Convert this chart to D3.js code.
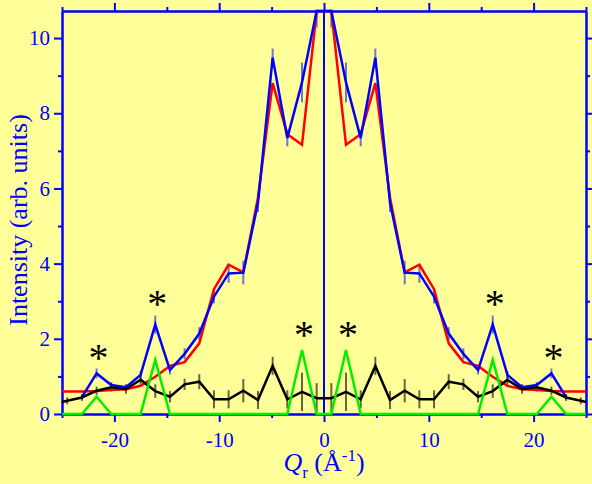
<!DOCTYPE html>
<html>
<head>
    <meta charset="utf-8">
    <title>Intensity vs Qr</title>
    <script src="https://d3js.org/d3.v7.min.js"></script>
    <style>
        body { margin: 0; background: #ffff99; }
    </style>
</head>
<body>
    <div id="chart"></div>

    <script>
        // Qr positions (1/A); the outer +-25.9 points sit just past the axis edges
        var qr = [-25.9, -24.5, -23.1, -21.7, -20.3, -18.9, -17.5, -16.1, -14.7, -13.3,
                  -11.9, -10.5, -9.1, -7.7, -6.3, -4.9, -3.5, -2.1, -0.7,
                  0.7, 2.1, 3.5, 4.9, 6.3, 7.7, 9.1, 10.5, 11.9, 13.3, 14.7,
                  16.1, 17.5, 18.9, 20.3, 21.7, 23.1, 24.5, 25.9];

        // model curve (red)
        var redI = [0.60, 0.60, 0.60, 0.61, 0.64, 0.66, 0.75, 0.99, 1.28, 1.38,
                    1.88, 3.32, 3.97, 3.77, 5.75, 8.80, 7.44, 7.16, 11.2,
                    11.2, 7.16, 7.44, 8.80, 5.75, 3.77, 3.97, 3.32, 1.88, 1.38, 1.28,
                    0.99, 0.75, 0.66, 0.64, 0.61, 0.60, 0.60, 0.60];

        // measured (blue), only -23.1 .. 23.1
        var blueQ = [-23.1, -21.7, -20.3, -18.9, -17.5, -16.1, -14.7, -13.3,
                     -11.9, -10.5, -9.1, -7.7, -6.3, -4.9, -3.5, -2.1, -0.7,
                     0.7, 2.1, 3.5, 4.9, 6.3, 7.7, 9.1, 10.5, 11.9, 13.3, 14.7,
                     16.1, 17.5, 18.9, 20.3, 21.7, 23.1];
        var blueI = [0.45, 1.08, 0.77, 0.71, 1.04, 2.38, 1.17, 1.60,
                     2.14, 3.12, 3.74, 3.76, 5.62, 9.48, 7.34, 8.82, 11.2,
                     11.2, 8.82, 7.34, 9.48, 5.62, 3.76, 3.74, 3.12, 2.14, 1.60, 1.17,
                     2.38, 1.04, 0.71, 0.77, 1.08, 0.45];
        var blueErr = [0.06, 0.13, 0.08, 0.08, 0.10, 0.24, 0.12, 0.15,
                       0.17, 0.18, 0.25, 0.31, 0.25, 0.24, 0.22, 0.53, 0.92,
                       0.92, 0.53, 0.22, 0.24, 0.25, 0.31, 0.25, 0.18, 0.17, 0.15, 0.12,
                       0.24, 0.10, 0.08, 0.08, 0.13, 0.06];

        // green curve
        var greenI = [0, 0, 0, 0.46, 0, 0, 0, 1.44, 0, 0,
                      0, 0, 0, 0, 0, 0, 0, 1.70, 0,
                      0, 1.70, 0, 0, 0, 0, 0, 0, 0, 0, 0,
                      1.44, 0, 0, 0, 0.46, 0, 0, 0];

        // black curve with error bars
        var blackI = [0.32, 0.35, 0.44, 0.62, 0.71, 0.66, 0.91, 0.61, 0.46, 0.79,
                      0.86, 0.39, 0.39, 0.62, 0.37, 1.28, 0.39, 0.59, 0.42,
                      0.42, 0.59, 0.39, 1.28, 0.37, 0.62, 0.39, 0.39, 0.86, 0.79, 0.46,
                      0.61, 0.91, 0.66, 0.71, 0.62, 0.44, 0.35, 0.32];
        var blackErr = [0, 0.09, 0.09, 0.11, 0.11, 0.12, 0.13, 0.18, 0.15, 0.15,
                        0.20, 0.24, 0.24, 0.31, 0.24, 0.24, 0.24, 0.51, 0.40,
                        0.40, 0.51, 0.24, 0.24, 0.24, 0.31, 0.24, 0.24, 0.20, 0.15, 0.15,
                        0.18, 0.13, 0.12, 0.11, 0.11, 0.09, 0.09, 0];

        // asterisk markers
        var starQ = [-21.7, -16.1, -2.1, 2.1, 16.1, 21.7];
        var starI = [1.62, 3.07, 2.24, 2.24, 3.07, 1.62];

        var xMajor = [-20, -10, 0, 10, 20];
        var xMinor = [-25, -15, -5, 5, 15, 25];
        var yMajor = [0, 2, 4, 6, 8, 10];
        var yMinor = [1, 3, 5, 7, 9];

        var width = 592, height = 484;
        var plotLeft = 62, plotRight = 586, plotTop = 11, plotBottom = 414;
        var axisColor = "#0000ff";
        var serif = "'Liberation Serif', 'Times New Roman', serif";

        var svg = d3.select("#chart")
            .append("svg")
            .attr("width", width)
            .attr("height", height);

        svg.append("rect")
            .attr("width", width)
            .attr("height", height)
            .attr("fill", "#ffff99");

        var x = d3.scaleLinear().domain([-25, 25]).range([plotLeft, plotRight]).clamp(true);
        var y = d3.scaleLinear().domain([0, 10.72]).range([plotBottom, plotTop]).clamp(true);

        function errorBars(qs, vals, errs, color, opacity) {
            svg.append("g")
                .selectAll("line")
                .data(qs.map(function(q, i) { return { q: q, v: vals[i], e: errs[i] }; })
                        .filter(function(d) { return d.e > 0; }))
                .enter()
                .append("line")
                .attr("x1", function(d) { return x(d.q); })
                .attr("x2", function(d) { return x(d.q); })
                .attr("y1", function(d) { return y(d.v - d.e); })
                .attr("y2", function(d) { return y(d.v + d.e); })
                .attr("stroke", color)
                .attr("stroke-opacity", opacity)
                .attr("stroke-width", 2);
        }

        function curve(qs, vals, color) {
            var line = d3.line()
                .x(function(d) { return x(d[0]); })
                .y(function(d) { return y(d[1]); });
            svg.append("path")
                .attr("d", line(qs.map(function(q, i) { return [q, vals[i]]; })))
                .attr("fill", "none")
                .attr("stroke", color)
                .attr("stroke-width", 2.5);
        }

        // zero line at Qr = 0
        svg.append("line")
            .attr("x1", x(0)).attr("x2", x(0))
            .attr("y1", plotTop).attr("y2", plotBottom)
            .attr("stroke", axisColor)
            .attr("stroke-width", 2);

        // axes
        function styleAxis(g) {
            g.selectAll("path, line")
                .attr("stroke", axisColor)
                .attr("stroke-width", 2);
            g.selectAll("text")
                .attr("fill", axisColor)
                .style("font-family", serif)
                .style("font-size", "21px");
        }

        var fmt = function(d) { return String(d); };

        svg.append("g")
            .attr("transform", "translate(0," + plotBottom + ")")
            .call(d3.axisBottom(x).tickValues(xMajor).tickSize(8).tickSizeOuter(0)
                .tickPadding(10).tickFormat(fmt))
            .call(styleAxis);
        svg.append("g")
            .attr("transform", "translate(0," + plotBottom + ")")
            .call(d3.axisBottom(x).tickValues(xMinor).tickSize(4).tickSizeOuter(0).tickFormat(""))
            .call(styleAxis);
        svg.append("g")
            .attr("transform", "translate(0," + plotTop + ")")
            .call(d3.axisTop(x).tickValues(xMajor).tickSize(8).tickSizeOuter(0).tickFormat(""))
            .call(styleAxis);
        svg.append("g")
            .attr("transform", "translate(0," + plotTop + ")")
            .call(d3.axisTop(x).tickValues(xMinor).tickSize(4).tickSizeOuter(0).tickFormat(""))
            .call(styleAxis);

        svg.append("g")
            .attr("transform", "translate(" + plotLeft + ",0)")
            .call(d3.axisLeft(y).tickValues(yMajor).tickSize(8).tickSizeOuter(0)
                .tickPadding(4).tickFormat(fmt))
            .call(styleAxis);
        svg.append("g")
            .attr("transform", "translate(" + plotLeft + ",0)")
            .call(d3.axisLeft(y).tickValues(yMinor).tickSize(4).tickSizeOuter(0).tickFormat(""))
            .call(styleAxis);
        svg.append("g")
            .attr("transform", "translate(" + plotRight + ",0)")
            .call(d3.axisRight(y).tickValues(yMajor).tickSize(8).tickSizeOuter(0).tickFormat(""))
            .call(styleAxis);
        svg.append("g")
            .attr("transform", "translate(" + plotRight + ",0)")
            .call(d3.axisRight(y).tickValues(yMinor).tickSize(4).tickSizeOuter(0).tickFormat(""))
            .call(styleAxis);

        // data
        errorBars(qr, blackI, blackErr, "#000000", 0.6);
        errorBars(blueQ, blueI, blueErr, "#0000ff", 0.55);
        curve(qr, redI, "#ff0000");
        curve(blueQ, blueI, "#0000ff");
        curve(qr, blackI, "#000000");
        curve(qr, greenI, "#00ee00");

        // asterisks
        svg.append("g")
            .selectAll("text")
            .data(starQ)
            .enter()
            .append("text")
            .attr("x", function(d) { return x(d) + 2; })
            .attr("y", function(d, i) { return y(starI[i]); })
            .attr("dy", "0.46em")
            .attr("text-anchor", "middle")
            .style("font-family", serif)
            .style("font-size", "40px")
            .attr("fill", "#000")
            .text("*");

        // axis titles
        svg.append("text")
            .attr("transform", "translate(27,220) rotate(-90)")
            .attr("text-anchor", "middle")
            .attr("fill", axisColor)
            .style("font-family", serif)
            .style("font-size", "26px")
            .text("Intensity (arb. units)");

        var xt = svg.append("text")
            .attr("x", 324)
            .attr("y", 471)
            .attr("text-anchor", "middle")
            .attr("fill", axisColor)
            .style("font-family", serif)
            .style("font-size", "26px");
        xt.append("tspan").style("font-style", "italic").text("Q");
        xt.append("tspan").attr("dy", 7).style("font-size", "17px").text("r");
        xt.append("tspan").attr("dy", -7).text(" (Å");
        xt.append("tspan").attr("dy", -10).style("font-size", "17px").text("-1");
        xt.append("tspan").attr("dy", 10).text(")");
    </script>
</body>
</html>
